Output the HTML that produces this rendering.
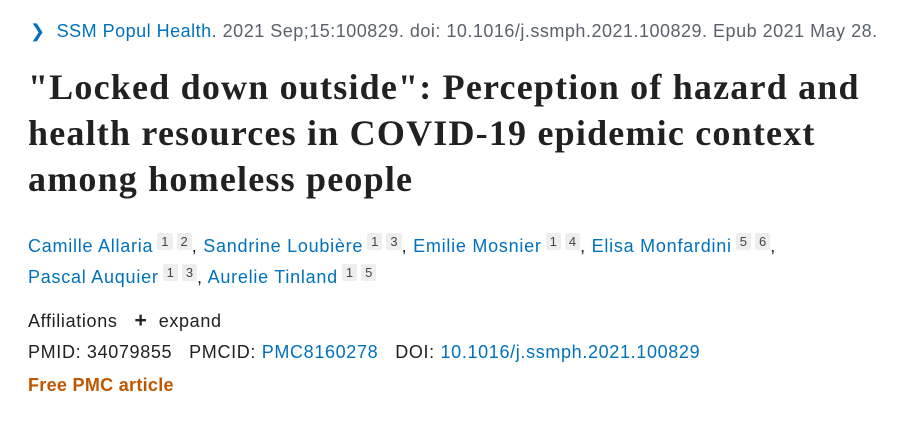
<!DOCTYPE html>
<html><head><meta charset="utf-8"><style>
body{margin:0;background:#fff;width:909px;height:438px;overflow:hidden;font-family:"Liberation Sans",sans-serif;color:#212121;letter-spacing:0.65px}
.a{position:absolute;white-space:nowrap}
.l{color:#0071bc}
.g{color:#5b616b}
sup{display:inline-block;background:#eee;color:#444;font-size:13px;line-height:17px;padding:0 4px;margin-left:4px;border-radius:2px;vertical-align:6px;letter-spacing:0}
h1{position:absolute;left:28px;top:64px;margin:0;font-family:"Liberation Serif",serif;font-weight:bold;font-size:36px;letter-spacing:1.2px;line-height:46px;color:#212121;width:890px;white-space:nowrap}
</style></head><body>
<div class="a" style="left:30px;top:21px;font-size:18px;letter-spacing:0.5px"><span class="l">&#x276F;&nbsp; SSM Popul Health.</span><span class="g"> 2021 Sep;15:100829. doi: 10.1016/j.ssmph.2021.100829. Epub 2021 May 28.</span></div>
<h1>"Locked down outside": Perception of hazard and<br>health resources in COVID-19 epidemic context<br>among homeless people</h1>
<div class="a" style="left:28px;top:231px;font-size:18px;line-height:31px;letter-spacing:0.75px"><span class="l">Camille Allaria</span><sup>1</sup><sup>2</sup>, <span class="l">Sandrine Loubière</span><sup>1</sup><sup>3</sup>, <span class="l">Emilie Mosnier</span><sup>1</sup><sup>4</sup>, <span class="l">Elisa Monfardini</span><sup>5</sup><sup>6</sup>,<br><span class="l">Pascal Auquier</span><sup>1</sup><sup>3</sup>, <span class="l">Aurelie Tinland</span><sup>1</sup><sup>5</sup></div>
<div class="a" style="left:28px;top:309px;font-size:18px">Affiliations &nbsp;&nbsp;<b style="font-size:21px">+</b>&nbsp; expand</div>
<div class="a" style="left:28px;top:342px;font-size:18px">PMID: 34079855 &nbsp;&nbsp;PMCID: <span class="l">PMC8160278</span> &nbsp;&nbsp;DOI: <span class="l">10.1016/j.ssmph.2021.100829</span></div>
<div class="a" style="left:28px;top:375px;font-size:18px;font-weight:bold;color:#c05600;letter-spacing:0.3px">Free PMC article</div>
</body></html>
